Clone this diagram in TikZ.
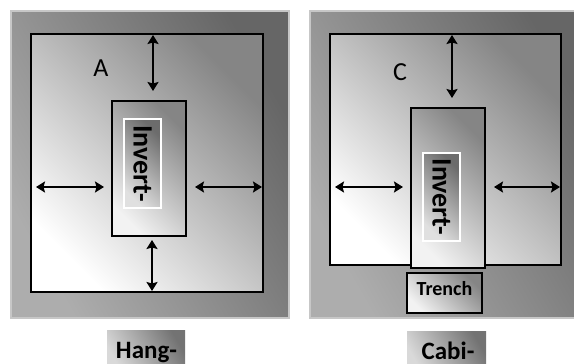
\documentclass[tikz,border=0pt]{standalone}
\usepackage{fontspec}
\setmainfont{Carlito}
\usetikzlibrary{arrows.meta}
\definecolor{outL}{gray}{0.68}
\definecolor{outD}{gray}{0.40}
\definecolor{outB}{gray}{0.78}
\definecolor{inD}{gray}{0.52}
\tikzset{
  outerbox/.style={draw=outB, line width=1.5pt, top color=outD, bottom color=outL, shading angle=-60},
  panelbox/.style={draw=black, line width=2.5pt, top color=inD, bottom color=white, shading angle=-45},
  invbox/.style={draw=black, line width=2pt, top color=inD, bottom color=white!95!black, shading angle=-45},
  lblbox/.style={draw=white, line width=1.5pt, top color=gray!85!black, bottom color=white!88!black, shading angle=-45},
  capbox/.style={top color=gray!90!black, bottom color=white!85!black, shading angle=-60},
  arr/.style={{Stealth[length=9pt,width=11pt,inset=1.5pt]}-{Stealth[length=9pt,width=11pt,inset=1.5pt]}, line width=2pt},
  vtxt/.style={font=\bfseries\fontsize{28}{28}\selectfont, rotate=-90, inner sep=0pt},
  ltr/.style={font=\fontsize{26}{26}\selectfont, inner sep=0pt, anchor=base},
  captxt/.style={font=\bfseries\fontsize{25}{25}\selectfont, inner sep=0pt, anchor=base},
}
\begin{document}
\begin{tikzpicture}[x=1pt,y=-1pt]
\useasboundingbox (0,0) rectangle (574,364);
\clip (0,0) rectangle (574,364);
% ---------- left panel ----------
\path[outerbox] (11,11) rectangle (289,318);
\path[panelbox] (31,34) rectangle (263,292);
\path[invbox] (112,101) rectangle (186,236);
\path[lblbox] (124,119) rectangle (161,208);
\node[vtxt] (invA) at (142.5,163.5) {Invert-};
\node[ltr] (lA) at (101,76) {A};
\coordinate (aT1) at (153,35);  \coordinate (aT2) at (153,91);
\coordinate (aB1) at (152,240); \coordinate (aB2) at (152,291);
\coordinate (aL1) at (36,187);  \coordinate (aL2) at (104,187);
\coordinate (aR1) at (195,187); \coordinate (aR2) at (262,187);
\draw[arr] (aT1) -- (aT2);
\draw[arr] (aB1) -- (aB2);
\draw[arr] (aL1) -- (aL2);
\draw[arr] (aR1) -- (aR2);
\path[capbox] (107,330) rectangle (185,370);
\node[captxt] (hang) at (146.5,358) {Hang-};
% ---------- right panel ----------
\path[outerbox] (310,11) rectangle (590,318);
\path[panelbox] (330,34) rectangle (561,265);
\path[invbox] (407,273) rectangle (482,313);
\node[font=\bfseries\fontsize{20}{20}\selectfont, inner sep=0pt, anchor=base] (trench) at (444.5,295) {Trench};
\path[invbox] (411,108) rectangle (485,268);
\path[lblbox] (423,153) rectangle (460,241);
\node[vtxt] (invC) at (441.5,197) {Invert-};
\node[ltr] (lC) at (400,80) {C};
\coordinate (cT1) at (452,35);  \coordinate (cT2) at (452,98);
\coordinate (cL1) at (335,187); \coordinate (cL2) at (403,187);
\coordinate (cR1) at (494,187); \coordinate (cR2) at (560,187);
\draw[arr] (cT1) -- (cT2);
\draw[arr] (cL1) -- (cL2);
\draw[arr] (cR1) -- (cR2);
\path[capbox] (407,331) rectangle (486,370);
\node[captxt] (cabi) at (448,359) {Cabi-};
\end{tikzpicture}
\end{document}
